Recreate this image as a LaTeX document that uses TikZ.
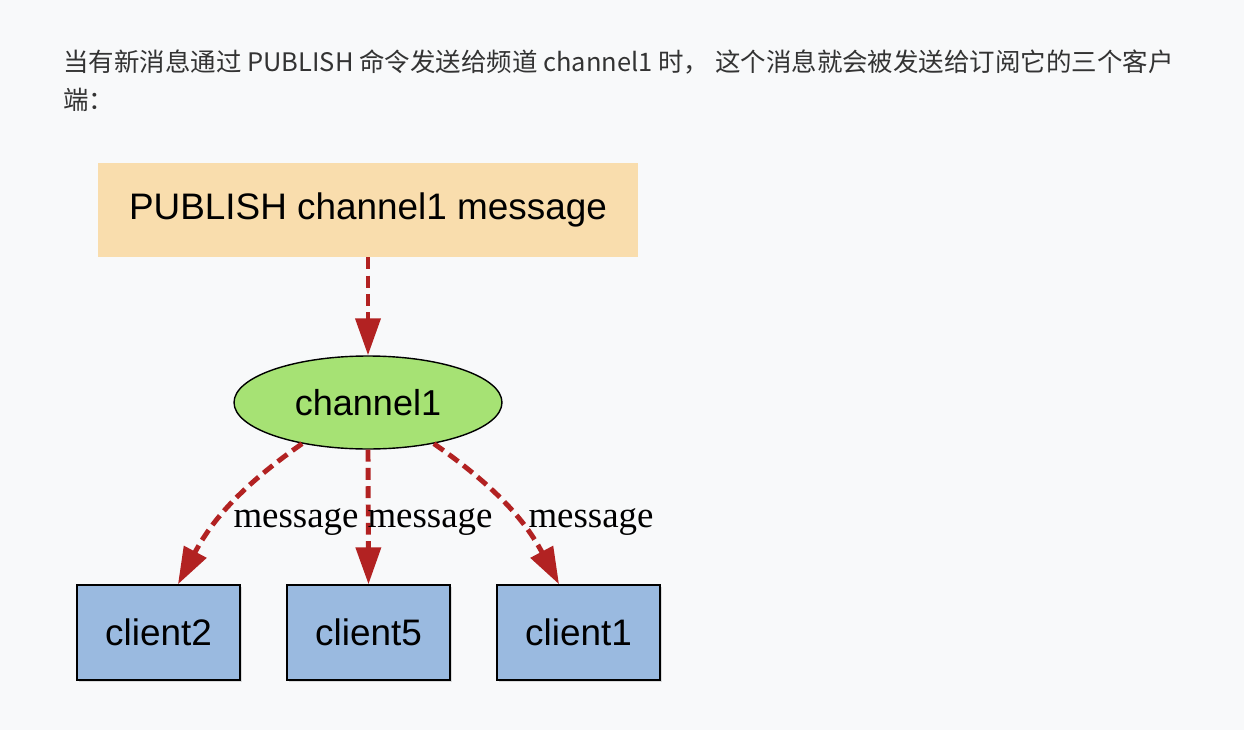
\documentclass[tikz,border=0pt]{standalone}
\usepackage{fontspec}
\setmainfont{Liberation Serif}
\newfontfamily\arialfont{Liberation Sans}
\newfontfamily\cjk{Noto Sans CJK SC}
\usepackage{xcolor}
\usetikzlibrary{shapes.geometric,arrows.meta,shadows}
\definecolor{pagebg}{RGB}{248,249,250}
\definecolor{introtext}{RGB}{51,51,51}
\definecolor{pubfill}{RGB}{249,221,173}
\definecolor{chanfill}{RGB}{166,226,116}
\definecolor{clientfill}{RGB}{154,186,224}
\definecolor{msgred}{RGB}{178,34,34}

\begin{document}
\begin{tikzpicture}[
  x=0.02cm, y=-0.02cm,
  intro/.style={anchor=west, inner sep=0pt, text=introtext,
    font=\cjk\fontsize{14.5pt}{17pt}\selectfont},
  pubbox/.style={rectangle, fill=pubfill, minimum width=10.8cm,
    minimum height=1.88cm, font=\arialfont\fontsize{21pt}{25pt}\selectfont},
  chan/.style={ellipse, draw=black, line width=0.8pt, fill=chanfill,
    minimum width=5.36cm, minimum height=1.86cm, inner sep=0pt,
    font=\arialfont\fontsize{20.5pt}{24pt}\selectfont},
  client/.style={rectangle, draw=black, line width=0.8pt, fill=clientfill,
    minimum width=3.26cm, minimum height=1.9cm,
    drop shadow={shadow xshift=1.2pt, shadow yshift=-1.2pt, opacity=0.25},
    font=\arialfont\fontsize{21pt}{25pt}\selectfont},
  msg/.style={draw=msgred, line width=2.8pt, dash pattern=on 6.8pt off 3.6pt,
    -{Triangle[length=21pt, width=14pt, fill=msgred]}},
  lbl/.style={inner sep=0pt, font=\fontsize{21pt}{25pt}\selectfont},
]
  % Page
  \fill[pagebg] (0,0) rectangle (1244,730);
  \useasboundingbox (0,0) rectangle (1244,730);

  % Intro text
  \node[intro] (line1) at (63,62) {当有新消息通过 PUBLISH 命令发送给频道 channel1 时， 这个消息就会被发送给订阅它的三个客户};
  \node[intro] (line2) at (63,100) {端：};

  % Publisher and channel
  \node[pubbox] (pub) at (368,210) {PUBLISH channel1 message};
  \node[chan] (chan) at (368,402.5) {channel1};

  % Subscribers
  \node[client] (c2) at (158.5,632.5) {client2};
  \node[client] (c5) at (368.5,632.5) {client5};
  \node[client] (c1) at (578.5,632.5) {client1};

  % Messages
  \draw[msg] (pub.south) -- (chan.north);
  \draw[msg] (chan.212) to[out=-145, in=62] (c2.68);
  \draw[msg] (chan.south) -- (c5.north);
  \draw[msg] (chan.328) to[out=-35, in=118] (c1.112);

  % Labels
  \node[lbl] (m2) at (296,522) {message};
  \node[lbl] (m5) at (430,522) {message};
  \node[lbl] (m1) at (591,522) {message};
\end{tikzpicture}
\end{document}
